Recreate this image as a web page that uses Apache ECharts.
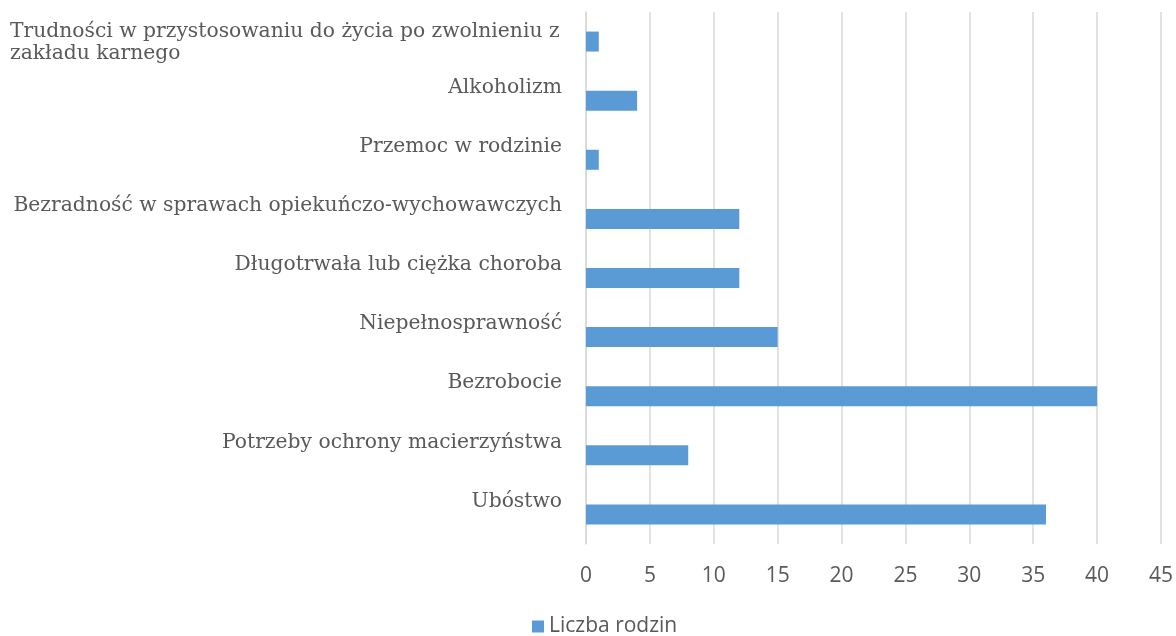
<!DOCTYPE html>
<html>
<head>
<meta charset="utf-8">
<script src="https://cdn.jsdelivr.net/npm/echarts@6/dist/echarts.min.js"></script>
<style>
  html, body { margin: 0; padding: 0; background: #fff; }
  #chart { width: 1176px; height: 636px; }
</style>
</head>
<body>
<div id="chart"></div>
<script>
// kategorie od dołu do góry
const categories = [
  'Ubóstwo',
  'Potrzeby ochrony macierzyństwa',
  'Bezrobocie',
  'Niepełnosprawność',
  'Długotrwała lub ciężka choroba',
  'Bezradność w sprawach opiekuńczo-wychowawczych',
  'Przemoc w rodzinie',
  'Alkoholizm',
  'Trudności w przystosowaniu do życia po zwolnieniu z zakładu karnego'
]
const familyCounts = [36, 8, 40, 15, 12, 12, 1, 4, 1]
const xTicks = { min: 0, max: 45, interval: 5 }
const seriesName = 'Liczba rodzin'

const chart = echarts.init(document.getElementById('chart'))

const labelFont = {
  fontFamily: 'DejaVu Serif',
  fontSize: 20.3,
  color: '#595959'
}

const options = {
  animation: false,
  grid: {
    left: 586,
    right: 15,
    top: 12,
    bottom: 92
  },
  legend: {
    top: 616,
    left: 532,
    padding: 0,
    itemWidth: 12,
    itemHeight: 12,
    icon: 'rect',
    textStyle: {
      fontFamily: 'Open Sans',
      fontSize: 21,
      color: '#595959'
    },
    data: [seriesName]
  },
  xAxis: {
    type: 'value',
    min: xTicks.min,
    max: xTicks.max,
    interval: xTicks.interval,
    axisLine: { show: false },
    axisTick: { show: false },
    axisLabel: {
      margin: 22,
      fontFamily: 'Open Sans',
      fontSize: 21,
      color: '#595959'
    },
    splitLine: {
      lineStyle: { color: '#d9d9d9', width: 1.5 }
    }
  },
  yAxis: {
    type: 'category',
    data: categories,
    axisLine: { lineStyle: { color: '#d9d9d9', width: 1.5 } },
    axisTick: { show: false },
    axisLabel: {
      margin: 24,
      interval: 0,
      ...labelFont,
      // najdłuższa etykieta zawinięta i wyrównana do lewej
      formatter: (value) => {
        if (value.length > 60) {
          return '{w1|Trudności w przystosowaniu do życia po zwolnieniu z}\n{w|zakładu karnego}'
        }
        return '{n|' + value + '}'
      },
      rich: {
        n: {
          ...labelFont,
          padding: [0, 0, 26, 0]
        },
        w1: {
          ...labelFont,
          width: 552,
          align: 'left',
          lineHeight: 25,
          padding: [6, 0, 0, 0]
        },
        w: {
          ...labelFont,
          width: 552,
          align: 'left',
          lineHeight: 25
        }
      }
    }
  },
  series: [
    {
      name: seriesName,
      type: 'bar',
      data: familyCounts,
      barWidth: 20,
      itemStyle: { color: '#5b9bd5' }
    }
  ]
}

chart.setOption(options)
</script>
</body>
</html>
